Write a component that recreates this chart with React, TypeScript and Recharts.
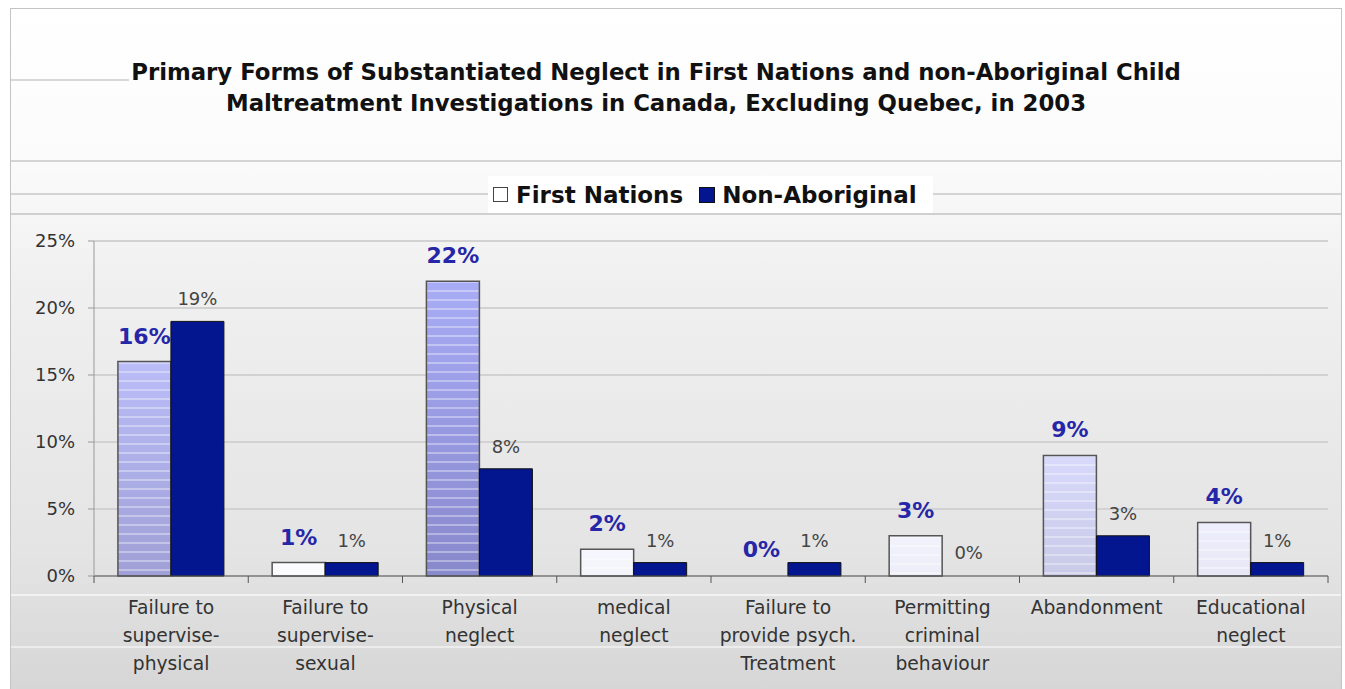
import React from "react";
import { BarChart, Bar, XAxis, YAxis, CartesianGrid, LabelList, Cell } from "recharts";

const categories = [
  "Failure to\nsupervise-\nphysical",
  "Failure to\nsupervise-\nsexual",
  "Physical\nneglect",
  "medical\nneglect",
  "Failure to\nprovide psych.\nTreatment",
  "Permitting\ncriminal\nbehaviour",
  "Abandonment",
  "Educational\nneglect",
];
const firstNations = [16, 1, 22, 2, 0, 3, 9, 4];
const nonAboriginal = [19, 1, 8, 1, 1, 0, 3, 1];
const yTicks = [0, 5, 10, 15, 20, 25];

const data = categories.map((name, i) => ({
  name,
  fn: firstNations[i],
  na: nonAboriginal[i],
}));

const W = 1330;
const H = 681;
const PLOT_LEFT = 83;
const PLOT_RIGHT = 1317;
const PLOT_TOP = 232;
const PLOT_BOTTOM = 567;
const BAND = (PLOT_RIGHT - PLOT_LEFT) / categories.length;
const PX_PER_UNIT = (PLOT_BOTTOM - PLOT_TOP) / 25;
const NAVY = "#03168f";
const FONT = "'DejaVu Sans', 'Liberation Sans', sans-serif";

const TOP_C = [168, 172, 246];
const BOT_C = [136, 136, 204];

function rgb(v: number[]) {
  return `rgb(${v.map((x) => Math.round(x)).join(",")})`;
}
// white -> colour by amount t
function tint(c: number[], t: number) {
  return c.map((x) => 255 - (255 - x) * t);
}
function lerp(a: number[], b: number[], p: number) {
  return a.map((x, i) => x + (b[i] - x) * p);
}

// gradient stops for a First Nations bar, with thin light stripes
function stripeStops(v: number) {
  const t = Math.min(1, (v / Math.max(...firstNations)) * 1.1);
  const top = tint(TOP_C, t);
  const bot = tint(BOT_C, t);
  const h = Math.max(1, v * PX_PER_UNIT);
  const stops: { o: number; c: string }[] = [];
  const step = 9;
  for (let y = 0; y < h; y += step) {
    const p0 = y / h;
    const p1 = Math.min(1, (y + 2) / h);
    const p2 = Math.min(1, (y + step) / h);
    const base0 = lerp(top, bot, p0);
    const light = lerp(base0, [255, 255, 255], 0.35);
    stops.push({ o: p0, c: rgb(light) });
    stops.push({ o: p1, c: rgb(light) });
    stops.push({ o: p1, c: rgb(lerp(top, bot, p1)) });
    stops.push({ o: p2, c: rgb(lerp(top, bot, p2)) });
  }
  return stops;
}

const XTick = (props: any) => {
  const { x, payload, index } = props;
  const lines = String(payload.value).split("\n");
  const left = x - BAND / 2;
  return (
    <g>
      <line x1={left} x2={left} y1={PLOT_BOTTOM} y2={PLOT_BOTTOM + 7} stroke="#555" />
      {index === categories.length - 1 && (
        <line x1={left + BAND} x2={left + BAND} y1={PLOT_BOTTOM} y2={PLOT_BOTTOM + 7} stroke="#555" />
      )}
      <text x={x} y={PLOT_BOTTOM + 38} textAnchor="middle" fill="#333" fontSize={18.7} fontFamily={FONT}>
        {lines.map((l, i) => (
          <tspan key={i} x={x} dy={i === 0 ? 0 : 28}>
            {l}
          </tspan>
        ))}
      </text>
    </g>
  );
};

export default function App() {
  return (
    <div
      style={{
        position: "absolute",
        left: 10,
        top: 8,
        width: W,
        height: H,
        border: "1px solid #c4c4c4",
        background: "linear-gradient(#ffffff 0%, #fbfbfb 22%, #f0f0f0 40%, #e4e4e4 80%, #d6d6d6 100%)",
        fontFamily: FONT,
        overflow: "hidden",
      }}
    >
      <div style={{ position: "absolute", left: 0, width: 118, top: 70, borderTop: "2px solid #d8d8d8" }} />
      <div style={{ position: "absolute", left: 0, right: 0, top: 151, borderTop: "2px solid #d4d4d4" }} />
      <div style={{ position: "absolute", left: 0, right: 0, top: 184, borderTop: "2px solid #d4d4d4" }} />
      <div style={{ position: "absolute", left: 0, right: 0, top: 204, borderTop: "2px solid #d0d0d0" }} />
      <div style={{ position: "absolute", left: 0, right: 0, top: 585, borderTop: "2px solid #f2f2f2" }} />
      <div style={{ position: "absolute", left: 0, right: 0, top: 637, borderTop: "2px solid #ececec" }} />
      <div
        style={{
          position: "absolute",
          left: 0,
          width: W,
          top: 48,
          textAlign: "center",
          fontWeight: "bold",
          fontSize: 22.8,
          lineHeight: "31px",
          color: "#111",
        }}
      >
        <div style={{ transform: "translateX(-20px)" }}>
          Primary Forms of Substantiated Neglect in First Nations and non-Aboriginal Child
          <br />
          Maltreatment Investigations in Canada, Excluding Quebec, in 2003
        </div>
      </div>
      <div
        style={{
          position: "absolute",
          left: 477,
          top: 167,
          width: 445,
          height: 37,
          background: "#fff",
          display: "flex",
          alignItems: "center",
          fontWeight: "bold",
          fontSize: 23,
          color: "#111",
        }}
      >
        <span style={{ width: 13, height: 13, border: "1.5px solid #444", background: "#fff", marginLeft: 5, marginRight: 8 }} />
        <span>First Nations</span>
        <span style={{ width: 14, height: 14, background: NAVY, border: "1px solid #111", marginLeft: 16, marginRight: 7 }} />
        <span>Non-Aboriginal</span>
      </div>
      <div style={{ position: "absolute", left: 0, top: 0 }}>
        <BarChart
          width={W}
          height={H}
          data={data}
          margin={{ top: PLOT_TOP, right: W - PLOT_RIGHT, bottom: 14, left: 23 }}
          barCategoryGap="15.5%"
          barGap={0}
        >
          <defs>
            {firstNations.map((v, i) => (
              <linearGradient key={i} id={`fn${i}`} x1="0" y1="0" x2="0" y2="1">
                {stripeStops(v).map((s, k) => (
                  <stop key={k} offset={s.o} stopColor={s.c} />
                ))}
              </linearGradient>
            ))}
          </defs>
          <CartesianGrid vertical={false} stroke="#d2d2d2" strokeWidth={2} />
          <XAxis
            dataKey="name"
            interval={0}
            tickLine={false}
            axisLine={{ stroke: "#555" }}
            tick={<XTick />}
            height={100}
          />
          <YAxis
            domain={[0, 25]}
            ticks={yTicks}
            width={60}
            tickFormatter={(v) => `${v}%`}
            tick={{ fill: "#333", fontSize: 18, fontFamily: FONT }}
            tickSize={6}
            tickMargin={13}
            axisLine={{ stroke: "#999" }}
            tickLine={{ stroke: "#999" }}
          />
          <Bar dataKey="fn" stroke="#555" strokeWidth={1.5} minPointSize={1} isAnimationActive={false}>
            {firstNations.map((v, i) => (
              <Cell
                key={i}
                fill={v === 0 ? "transparent" : `url(#fn${i})`}
                stroke={v === 0 ? "none" : "#555"}
              />
            ))}
            <LabelList
              dataKey="fn"
              position="top"
              offset={18}
              formatter={(v: any) => `${v}%`}
              fill="#2626a8"
              fontSize={22}
              fontWeight="bold"
              fontFamily={FONT}
            />
          </Bar>
          <Bar dataKey="na" fill={NAVY} stroke="#111" strokeWidth={1} minPointSize={1} isAnimationActive={false}>
            {nonAboriginal.map((v, i) => (
              <Cell key={i} fill={v === 0 ? "transparent" : NAVY} stroke={v === 0 ? "none" : "#111"} />
            ))}
            <LabelList
              dataKey="na"
              position="top"
              offset={16}
              formatter={(v: any) => `${v}%`}
              fill="#444"
              fontSize={18}
              fontFamily={FONT}
            />
          </Bar>
        </BarChart>
      </div>
    </div>
  );
}
